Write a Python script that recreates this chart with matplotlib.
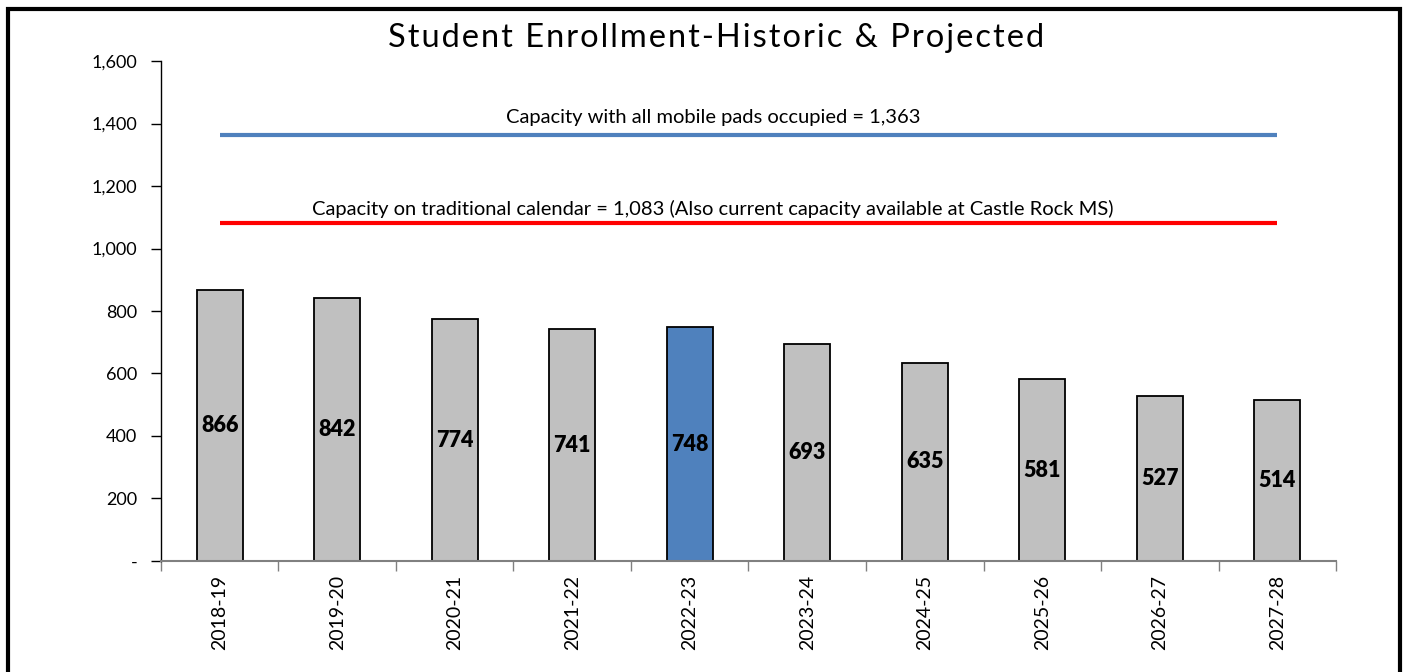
import numpy as np
import matplotlib.pyplot as plt
from matplotlib.patches import Rectangle
from matplotlib.ticker import FuncFormatter

years = ['2018-19', '2019-20', '2020-21', '2021-22', '2022-23',
         '2023-24', '2024-25', '2025-26', '2026-27', '2027-28']
enrollment = [866, 842, 774, 741, 748, 693, 635, 581, 527, 514]
current_year = '2022-23'

cap_mobile = 1363
cap_traditional = 1083
cap_mobile_label = 'Capacity with all mobile pads occupied = 1,363'
cap_trad_label = 'Capacity on traditional calendar = 1,083 (Also current capacity available at Castle Rock MS)'
title = 'Student Enrollment-Historic & Projected'

plt.rcParams['font.family'] = ['Lato', 'DejaVu Sans']

fig = plt.figure(figsize=(14.08, 6.72), dpi=100)
ax = fig.add_axes([0.1143, 0.1652, 0.8346, 0.744])

x = np.arange(len(years))
colors = ['#4f81bd' if y == current_year else '#c0c0c0' for y in years]
ax.bar(x, enrollment, width=0.39, color=colors, edgecolor='black', linewidth=1.3, zorder=2)

for xi, v in zip(x, enrollment):
    ax.text(xi, v / 2, str(v), ha='center', va='center',
            fontsize=15.5, fontweight='heavy', color='black', zorder=3)

ax.plot(x, [cap_mobile] * len(x), color='#4f81bd', linewidth=3, solid_capstyle='butt', zorder=2)
ax.plot(x, [cap_traditional] * len(x), color='#ff0000', linewidth=3, solid_capstyle='butt', zorder=2)
ax.text(4.2, cap_mobile + 28, cap_mobile_label, ha='center', va='bottom', fontsize=14.5)
ax.text(4.2, cap_traditional + 14, cap_trad_label, ha='center', va='bottom', fontsize=14.5)

ax.set_xlim(-0.5, len(years) - 0.5)
ax.set_ylim(0, 1600)
ax.set_yticks(np.arange(0, 1601, 200))
ax.yaxis.set_major_formatter(FuncFormatter(lambda v, p: '-' if v == 0 else f'{int(v):,}'))

ax.set_xticks(np.arange(-0.5, len(years), 1.0))
ax.set_xticklabels([])
ax.set_xticks(x, minor=True)
ax.set_xticklabels(years, minor=True, rotation=90, fontsize=14)
ax.tick_params(axis='x', which='major', direction='out', length=7, color='#808080', width=1)
ax.tick_params(axis='x', which='minor', length=0, pad=10)
ax.tick_params(axis='y', direction='out', length=7, width=1, labelsize=13, pad=10)

for side in ['top', 'right']:
    ax.spines[side].set_visible(False)
ax.spines['left'].set_linewidth(1)
ax.spines['bottom'].set_color('#808080')
ax.spines['bottom'].set_linewidth(1.5)

# spread the title letters a little, like the original
fig.text(0.5085, 0.943, '\u200a'.join(title), ha='center', va='center', fontsize=23.5)

fig.patches.append(Rectangle((8 / 1408, -0.01), 1392 / 1408, 1 - 9 / 672 + 0.01,
                             transform=fig.transFigure, fill=False,
                             edgecolor='black', linewidth=3))

fig.savefig('out.png', dpi=100)
